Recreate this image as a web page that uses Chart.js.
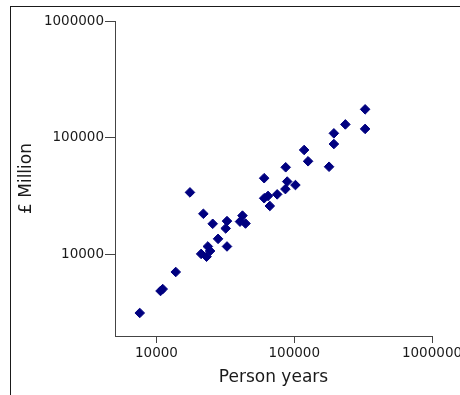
<!DOCTYPE html>
<html>
<head>
<meta charset="utf-8">
<script src="https://cdn.jsdelivr.net/npm/chart.js@4.4.1/dist/chart.umd.min.js"></script>
<style>
  html, body { margin: 0; padding: 0; background: #fff; }
  body { width: 460px; height: 395px; overflow: hidden; position: relative; }
  #wrap { position: absolute; left: 0; top: 0; width: 480px; height: 395px; }
  #frame { position: absolute; left: 10px; top: 6px; width: 460px; height: 400px;
           border-left: 1px solid #1a1a1a; border-top: 1px solid #1a1a1a; pointer-events: none; }
</style>
</head>
<body>
<div id="wrap"><canvas id="c" width="480" height="395"></canvas></div>
<div id="frame"></div>
<script>
// Data
const personYears = [7560, 10700, 11100, 13800, 17500, 21900, 25600, 32500, 31800, 28000,
  32500, 23600, 21100, 24500, 23100, 42100, 40400, 44300, 60500, 60500,
  64500, 66500, 75200, 86700, 88900, 86300, 102000, 118000, 126000, 179000,
  194000, 194000, 235000, 327000, 327000];
const poundsMillion = [3150, 4860, 5050, 7070, 34000, 22300, 18300, 19300, 16700, 13600,
  11700, 11700, 10100, 10700, 9560, 21500, 19100, 18400, 45000, 30300,
  31700, 26000, 32700, 55800, 42100, 36300, 39300, 78500, 62800, 56400,
  109000, 88300, 130000, 175000, 119000];
const xTickValues = [10000, 100000, 1000000];
const yTickValues = [10000, 100000, 1000000];
const xRange = [5000, 1000000];
const yRange = [2000, 1000000];
const xTitle = 'Person years';
const yTitle = '£ Million';

const points = personYears.map((x, i) => ({ x: x, y: poundsMillion[i] }));
const FONT = 'DejaVu Sans';
const axisColor = '#444';

new Chart(document.getElementById('c'), {
  type: 'scatter',
  data: {
    datasets: [{
      data: points,
      pointStyle: 'rectRot',
      pointRadius: 4.8,
      pointBorderWidth: 1,
      backgroundColor: '#000080',
      borderColor: '#000080'
    }]
  },
  options: {
    responsive: false,
    animation: false,
    events: [],
    layout: { padding: { left: 10, top: 21, right: 48, bottom: 0 } },
    plugins: { legend: { display: false }, tooltip: { enabled: false } },
    scales: {
      x: {
        type: 'logarithmic',
        min: xRange[0], max: xRange[1],
        afterBuildTicks: s => { s.ticks = xTickValues.map(v => ({ value: v })); },
        afterFit: s => { s.height = 59; },
        grid: { display: true, drawOnChartArea: false, drawTicks: true, tickLength: 7, color: axisColor, lineWidth: 1 },
        border: { display: true, color: axisColor, width: 1 },
        ticks: { color: '#1a1a1a', font: { family: FONT, size: 13.5 }, padding: 2, maxRotation: 0, autoSkip: false,
                 callback: v => String(v) },
        title: { display: true, text: xTitle, color: '#1a1a1a', font: { family: FONT, size: 17 }, padding: { top: 0, bottom: 7 } }
      },
      y: {
        type: 'logarithmic',
        min: yRange[0], max: yRange[1],
        afterBuildTicks: s => { s.ticks = yTickValues.map(v => ({ value: v })); },
        afterFit: s => { s.width = 105; },
        grid: { display: true, drawOnChartArea: false, drawTicks: true, tickLength: 10, color: axisColor, lineWidth: 1 },
        border: { display: true, color: axisColor, width: 1 },
        ticks: { color: '#1a1a1a', font: { family: FONT, size: 13.5 }, padding: 1, autoSkip: false,
                 callback: v => String(v) },
        title: { display: true, text: yTitle, color: '#1a1a1a', font: { family: FONT, size: 17 }, padding: { top: 6, bottom: 0 } }
      }
    }
  }
});
</script>
</body>
</html>
